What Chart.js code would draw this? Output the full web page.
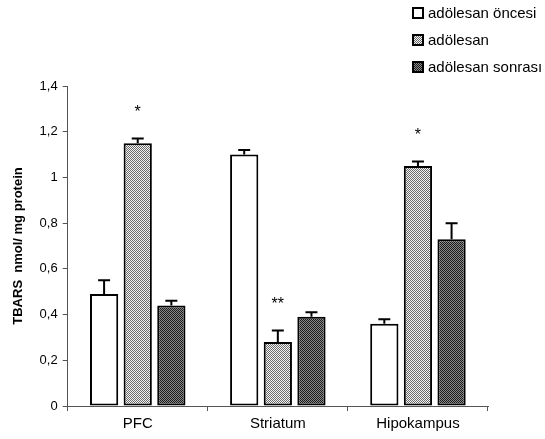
<!DOCTYPE html>
<html>
<head>
<meta charset="utf-8">
<script src="https://cdn.jsdelivr.net/npm/chart.js@4"></script>
<style>
  html, body { margin: 0; padding: 0; background: #fff; }
  #wrap { width: 545px; height: 439px; }
</style>
</head>
<body>
<div id="wrap"><canvas id="c" width="545" height="439"></canvas></div>
<script>
(function () {
    'use strict';

    var regions = ['PFC', 'Striatum', 'Hipokampus'];
    var groupNames = ['adölesan öncesi', 'adölesan', 'adölesan sonrası'];

    var preAdolescent  = [0.49, 1.10, 0.36];
    var adolescent     = [1.15, 0.28, 1.05];
    var postAdolescent = [0.44, 0.39, 0.73];

    var preErr  = [0.06, 0.02, 0.02];
    var adolErr = [0.02, 0.05, 0.02];
    var postErr = [0.02, 0.02, 0.07];

    var preMarks  = ['', '', ''];
    var adolMarks = ['*', '**', '*'];
    var postMarks = ['', '', ''];

    var yTicks = [0, 0.2, 0.4, 0.6, 0.8, 1, 1.2, 1.4];

    var FONT = 'Arial, "Liberation Sans", sans-serif';

    function makePattern(a, b) {
        var p = document.createElement('canvas');
        p.width = 2; p.height = 2;
        var g = p.getContext('2d');
        g.fillStyle = a; g.fillRect(0, 0, 2, 2);
        g.fillStyle = b; g.fillRect(0, 0, 1, 1); g.fillRect(1, 1, 1, 1);
        return g.createPattern(p, 'repeat');
    }

    var fills = ['#ffffff', makePattern('#f4f4f4', '#6a6a6a'), makePattern('#8a8a8a', '#1a1a1a')];

    // error bars (upward only) + significance marks
    var errorPlugin = {
        id: 'errorBars',
        afterDatasetsDraw: function (chart) {
            var ctx = chart.ctx;
            var y = chart.scales.y;
            ctx.save();
            chart.data.datasets.forEach(function (ds, di) {
                var meta = chart.getDatasetMeta(di);
                meta.data.forEach(function (bar, i) {
                    var top = y.getPixelForValue(ds.data[i] + ds.err[i]);
                    ctx.strokeStyle = '#000';
                    ctx.lineWidth = 2;
                    ctx.beginPath();
                    ctx.moveTo(bar.x, bar.y);
                    ctx.lineTo(bar.x, top);
                    ctx.moveTo(bar.x - 6, top);
                    ctx.lineTo(bar.x + 6, top);
                    ctx.stroke();
                    if (ds.marks[i]) {
                        ctx.fillStyle = '#000';
                        ctx.font = '16px ' + FONT;
                        ctx.textAlign = 'center';
                        ctx.textBaseline = 'middle';
                        ctx.fillText(ds.marks[i], bar.x, top - 26);
                    }
                });
            });
            ctx.restore();
        }
    };

    // legend stacked in the top right corner
    var legendPlugin = {
        id: 'cornerLegend',
        afterDraw: function (chart) {
            var ctx = chart.ctx;
            ctx.save();
            ctx.font = '15px ' + FONT;
            ctx.textBaseline = 'middle';
            ctx.textAlign = 'left';
            chart.data.datasets.forEach(function (ds, i) {
                var yy = 13 + i * 27;
                ctx.fillStyle = ds.backgroundColor;
                ctx.fillRect(413, yy - 5, 10, 10);
                ctx.strokeStyle = '#000';
                ctx.lineWidth = 2;
                ctx.strokeRect(413, yy - 5, 10, 10);
                ctx.fillStyle = '#000';
                ctx.fillText(ds.label, 428, yy + 1);
            });
            ctx.restore();
        }
    };

    function dataset(i, values, err, marks) {
        return {
            label: groupNames[i],
            data: values,
            err: err,
            marks: marks,
            backgroundColor: fills[i],
            borderColor: '#000',
            borderWidth: 2,
            borderSkipped: false,
            categoryPercentage: 0.72,
            barPercentage: 0.84
        };
    }

    new Chart(document.getElementById('c'), {
        type: 'bar',
        data: {
            labels: regions,
            datasets: [
                dataset(0, preAdolescent, preErr, preMarks),
                dataset(1, adolescent, adolErr, adolMarks),
                dataset(2, postAdolescent, postErr, postMarks)
            ]
        },
        options: {
            responsive: false,
            animation: false,
            layout: { padding: { top: 86, right: 57, bottom: 2, left: 11 } },
            plugins: { legend: { display: false }, tooltip: { enabled: false } },
            scales: {
                x: {
                    grid: { display: true, offset: true, drawOnChartArea: false, tickLength: 5, color: '#555' },
                    border: { color: '#555', width: 1 },
                    ticks: { color: '#000', font: { family: FONT, size: 15 }, padding: 4 }
                },
                y: {
                    min: 0,
                    max: 1.4,
                    afterBuildTicks: function (s) { s.ticks = yTicks.map(function (v) { return { value: v }; }); },
                    grid: { display: true, drawOnChartArea: false, tickLength: 5, color: '#555' },
                    border: { color: '#555', width: 1 },
                    ticks: {
                        color: '#000',
                        font: { family: FONT, size: 13 },
                        padding: 5,
                        callback: function (v) { return String(Math.round(v * 10) / 10).replace('.', ','); }
                    },
                    title: {
                        display: true,
                        text: 'TBARS  nmol/ mg protein',
                        color: '#000',
                        font: { family: FONT, size: 13, weight: 'bold' },
                        padding: { top: 0, bottom: 8 }
                    }
                }
            }
        },
        plugins: [errorPlugin, legendPlugin]
    });
})();
</script>
</body>
</html>
